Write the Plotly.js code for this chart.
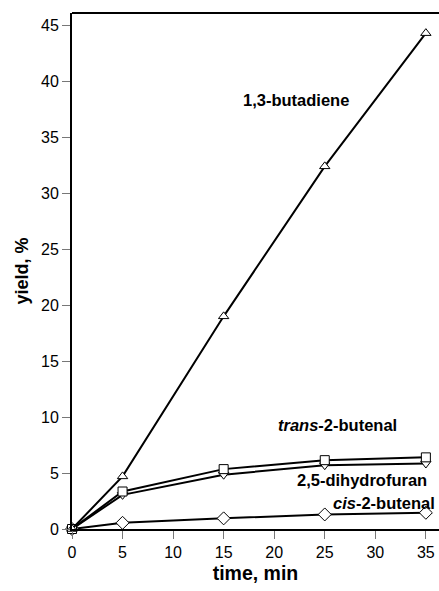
<!DOCTYPE html>
<html>
<head>
<meta charset="utf-8">
<script src="https://cdn.plot.ly/plotly-3.0.1.min.js"></script>
<style>html,body{margin:0;padding:0;background:#fff;}#chart{width:439px;height:591px;}</style>
</head>
<body>
<div id="chart"></div>
<script>
const time = [0, 5, 15, 25, 35];
const butadiene = [0, 4.7, 19.0, 32.4, 44.3];
const transButenal = [0, 3.35, 5.35, 6.15, 6.4];
const dihydrofuran = [0, 3.05, 4.85, 5.7, 5.85];
const cisButenal = [0, 0.55, 0.95, 1.3, 1.45];
const xTicks = [0, 5, 10, 15, 20, 25, 30, 35];
const yTicks = [0, 5, 10, 15, 20, 25, 30, 35, 40, 45];

function series(y, symbol, size) {
  return {
    x: time, y: y, type: 'scatter', mode: 'lines+markers',
    line: {color: '#000', width: 2},
    marker: {symbol: symbol, size: size, color: '#fff', line: {color: '#000', width: 1}},
    cliponaxis: false, showlegend: false
  };
}

const data = [
  series(cisButenal, 'diamond', 10),
  series(dihydrofuran, 'triangle-down', 9),
  series(transButenal, 'square', 9),
  series(butadiene, 'triangle-up', 9)
];

const font = {family: 'Liberation Sans, Arial, sans-serif', color: '#000'};
const annFont = {family: font.family, size: 16.5, color: '#000'};
const layout = {
  width: 439, height: 591,
  margin: {l: 72, r: 0, t: 13, b: 62},
  paper_bgcolor: '#fff', plot_bgcolor: '#fff',
  font: font,
  xaxis: {
    range: [0, 36.3], tickvals: xTicks, ticktext: xTicks.map(String),
    ticks: 'outside', ticklen: 8, tickcolor: '#777', tickwidth: 1,
    showline: true, linecolor: '#000', linewidth: 2,
    showgrid: false, zeroline: false,
    tickfont: {family: font.family, size: 16, color: '#000'},
    title: {text: '<b>time, min</b>', font: {family: font.family, size: 19.5, color: '#000'}, standoff: 6}
  },
  yaxis: {
    range: [0, 46.1], tickvals: yTicks, ticktext: yTicks.map(String),
    ticks: 'outside', ticklen: 8, tickcolor: '#777', tickwidth: 1,
    showline: true, linecolor: '#000', linewidth: 2,
    showgrid: false, zeroline: false,
    tickfont: {family: font.family, size: 16, color: '#000'},
    title: {text: '<b>yield, %</b>', font: {family: font.family, size: 18, color: '#000'}, standoff: 8}
  },
  shapes: [{type: 'line', xref: 'paper', yref: 'paper', x0: 0, x1: 1, y0: 1, y1: 1, line: {color: '#000', width: 2}}],
  annotations: [
    {x: 22.15, y: 38.3, text: '<b>1,3-butadiene</b>', showarrow: false, font: annFont},
    {x: 26.3, y: 9.3, text: '<b><i>trans</i>-2-butenal</b>', showarrow: false, font: annFont},
    {x: 28.7, y: 4.4, text: '<b>2,5-dihydrofuran</b>', showarrow: false, font: annFont},
    {x: 30.9, y: 2.3, text: '<b><i>cis</i>-2-butenal</b>', showarrow: false, font: annFont}
  ]
};

Plotly.newPlot('chart', data, layout, {displayModeBar: false, staticPlot: true});
</script>
</body>
</html>
